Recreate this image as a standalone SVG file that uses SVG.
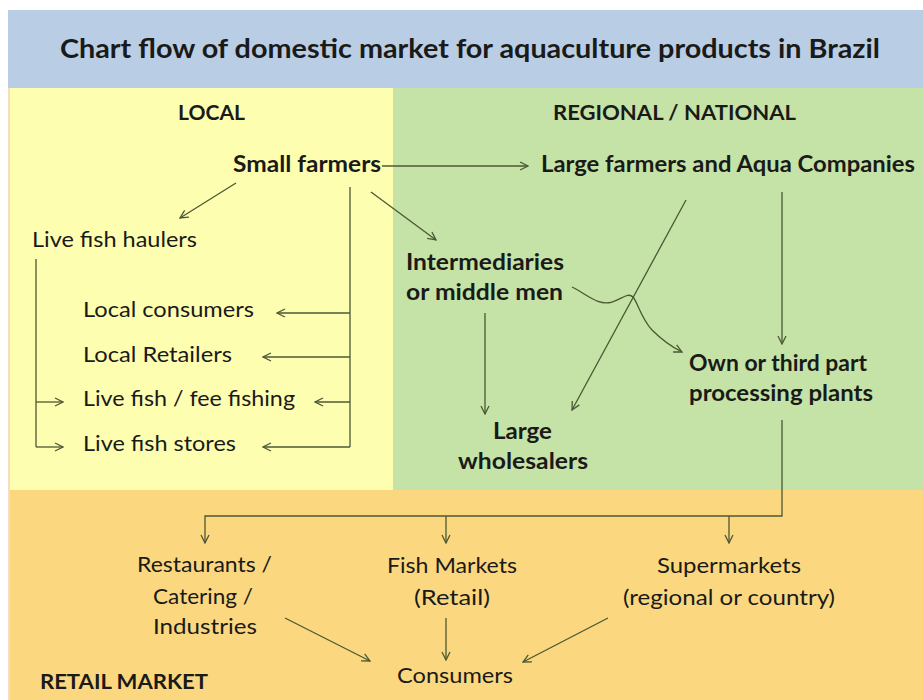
<svg xmlns="http://www.w3.org/2000/svg" width="923" height="700" viewBox="0 0 923 700">
<style>
.t{font-family:Lato,"Open Sans","Liberation Sans",sans-serif;fill:#1a1a18}
.b{font-weight:bold}
.title{font-size:26.5px;font-weight:bold}
.h{font-size:20px;font-weight:bold}
.n{font-size:22px}
.r{font-size:21px}
.c{fill:none;stroke:#4b5834;stroke-width:1.3}
</style>
<defs>
<marker id="ah" viewBox="0 0 10 10" refX="9" refY="5" markerWidth="10" markerHeight="10" markerUnits="userSpaceOnUse" orient="auto">
<path d="M1,1 L9,5 L1,9" fill="none" stroke="#4b5834" stroke-width="1.3"/>
</marker>
</defs>
<rect x="0" y="0" width="923" height="700" fill="#ffffff"/>
<rect x="8" y="10" width="915" height="78" fill="#b9cde5"/>
<rect x="8" y="88" width="385" height="402" fill="#fefeb1"/>
<rect x="393" y="88" width="530" height="402" fill="#c5e3a6"/>
<rect x="8" y="490" width="915" height="210" fill="#fbd880"/>
<line x1="9" y1="88" x2="9" y2="700" stroke="#f6dcc0" stroke-width="2"/>

<g id="title"><text class="t title" x="60" y="58" textLength="820" lengthAdjust="spacingAndGlyphs">Chart flow of domestic market for aquaculture products in Brazil</text></g>
<g id="local-label"><text class="t h" x="178" y="120" textLength="67" lengthAdjust="spacingAndGlyphs">LOCAL</text></g>
<g id="regional-label"><text class="t h" x="553" y="120" textLength="243" lengthAdjust="spacingAndGlyphs">REGIONAL / NATIONAL</text></g>
<g id="retail-label"><text class="t h" x="40" y="689" textLength="168" lengthAdjust="spacingAndGlyphs">RETAIL MARKET</text></g>

<g id="small-farmers"><text class="t n b" x="233" y="172" textLength="148" lengthAdjust="spacingAndGlyphs">Small farmers</text></g>
<g id="large-farmers"><text class="t n b" x="541" y="172" textLength="374" lengthAdjust="spacingAndGlyphs">Large farmers and Aqua Companies</text></g>
<g id="live-fish-haulers"><text class="t r" x="32" y="247" textLength="165" lengthAdjust="spacingAndGlyphs">Live fish haulers</text></g>
<g id="local-consumers"><text class="t r" x="83" y="317" textLength="171" lengthAdjust="spacingAndGlyphs">Local consumers</text></g>
<g id="local-retailers"><text class="t r" x="83" y="362" textLength="149" lengthAdjust="spacingAndGlyphs">Local Retailers</text></g>
<g id="fee-fishing"><text class="t r" x="83" y="406" textLength="212" lengthAdjust="spacingAndGlyphs">Live fish / fee fishing</text></g>
<g id="live-fish-stores"><text class="t r" x="83" y="451" textLength="153" lengthAdjust="spacingAndGlyphs">Live fish stores</text></g>
<g id="intermediaries">
<text class="t n b" x="406" y="270" textLength="158" lengthAdjust="spacingAndGlyphs">Intermediaries</text>
<text class="t n b" x="406" y="300" textLength="157" lengthAdjust="spacingAndGlyphs">or middle men</text>
</g>
<g id="large-wholesalers">
<text class="t n b" x="493" y="439" textLength="59" lengthAdjust="spacingAndGlyphs">Large</text>
<text class="t n b" x="458" y="469" textLength="130" lengthAdjust="spacingAndGlyphs">wholesalers</text>
</g>
<g id="processing-plants">
<text class="t n b" x="689" y="371" textLength="178" lengthAdjust="spacingAndGlyphs">Own or third part</text>
<text class="t n b" x="689" y="401" textLength="184" lengthAdjust="spacingAndGlyphs">processing plants</text>
</g>
<g id="restaurants">
<text class="t r" x="137" y="572" textLength="135" lengthAdjust="spacingAndGlyphs">Restaurants /</text>
<text class="t r" x="153" y="604" textLength="100" lengthAdjust="spacingAndGlyphs">Catering /</text>
<text class="t r" x="153" y="634" textLength="104" lengthAdjust="spacingAndGlyphs">Industries</text>
</g>
<g id="fish-markets">
<text class="t r" x="387" y="573" textLength="130" lengthAdjust="spacingAndGlyphs">Fish Markets</text>
<text class="t r" x="414" y="605" textLength="76" lengthAdjust="spacingAndGlyphs">(Retail)</text>
</g>
<g id="supermarkets">
<text class="t r" x="657" y="573" textLength="144" lengthAdjust="spacingAndGlyphs">Supermarkets</text>
<text class="t r" x="623" y="605" textLength="212" lengthAdjust="spacingAndGlyphs">(regional or country)</text>
</g>
<g id="consumers"><text class="t r" x="397" y="683" textLength="116" lengthAdjust="spacingAndGlyphs">Consumers</text></g>

<g id="connectors">
<line class="c" x1="382" y1="166" x2="528" y2="166" marker-end="url(#ah)"/>
<line class="c" x1="236" y1="183" x2="180" y2="218" marker-end="url(#ah)"/>
<line class="c" x1="371" y1="192" x2="436" y2="240" marker-end="url(#ah)"/>
<line class="c" x1="350" y1="187" x2="350" y2="447"/>
<line class="c" x1="350" y1="313" x2="277" y2="313" marker-end="url(#ah)"/>
<line class="c" x1="350" y1="357" x2="263" y2="357" marker-end="url(#ah)"/>
<line class="c" x1="350" y1="402" x2="315" y2="402" marker-end="url(#ah)"/>
<line class="c" x1="350" y1="447" x2="263" y2="447" marker-end="url(#ah)"/>
<line class="c" x1="36" y1="259" x2="36" y2="447"/>
<line class="c" x1="36" y1="402" x2="63" y2="402" marker-end="url(#ah)"/>
<line class="c" x1="36" y1="447" x2="63" y2="447" marker-end="url(#ah)"/>
<line class="c" x1="485" y1="313" x2="485" y2="414" marker-end="url(#ah)"/>
<line class="c" x1="686" y1="200" x2="572" y2="410" marker-end="url(#ah)"/>
<line class="c" x1="782" y1="192" x2="782" y2="344" marker-end="url(#ah)"/>
<path class="c" d="M572,287 C588,295 598,306 612,302 C622,299 628,292 633,297 C638,303 641,318 652,330 C662,340 672,347 682,352" marker-end="url(#ah)"/>
<polyline class="c" points="782,420 782,516 205,516 205,543" marker-end="url(#ah)"/>
<line class="c" x1="446" y1="516" x2="446" y2="543" marker-end="url(#ah)"/>
<line class="c" x1="729" y1="516" x2="729" y2="543" marker-end="url(#ah)"/>
<line class="c" x1="285" y1="618" x2="370" y2="661" marker-end="url(#ah)"/>
<line class="c" x1="446" y1="618" x2="446" y2="660" marker-end="url(#ah)"/>
<line class="c" x1="608" y1="618" x2="523" y2="662" marker-end="url(#ah)"/>
</g>
</svg>
